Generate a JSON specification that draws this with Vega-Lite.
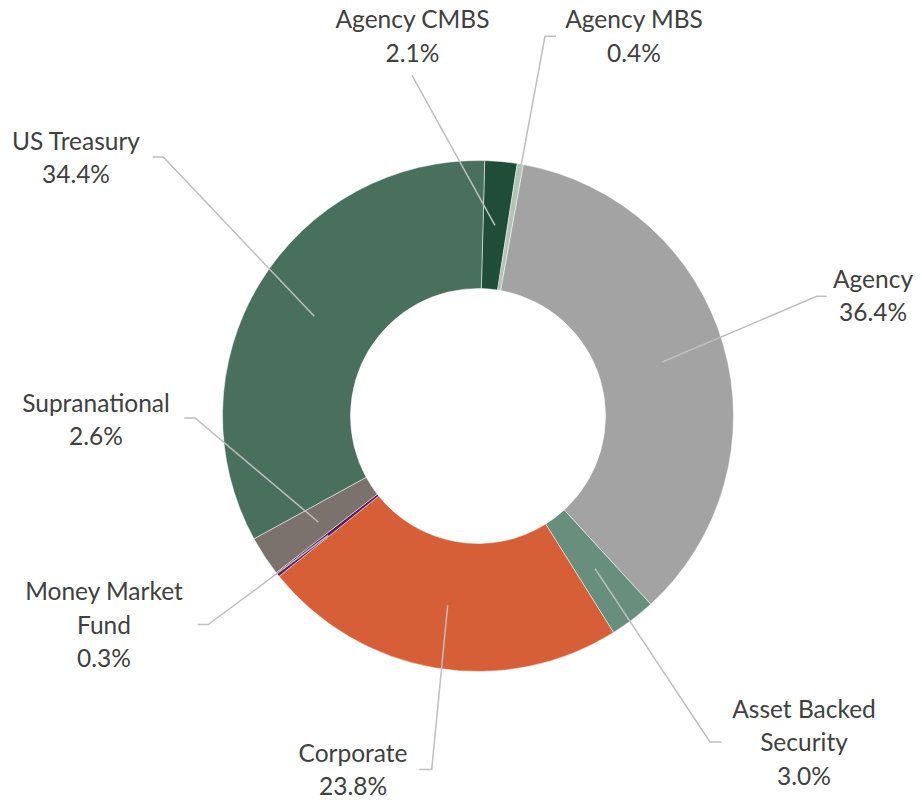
{
  "$schema": "https://vega.github.io/schema/vega-lite/v6.json",
  "width": 880,
  "height": 778,
  "autosize": {"type": "none"},
  "padding": {"left": 38, "top": 27, "right": 4, "bottom": 0},
  "background": "white",
  "config": {"view": {"stroke": null}},
  "datasets": {
    "allocation": [
      {"category": "Agency CMBS", "value": 2.1, "rank": 1},
      {"category": "Agency MBS", "value": 0.4, "rank": 2},
      {"category": "Agency", "value": 36.4, "rank": 3},
      {"category": "Asset Backed Security", "value": 3.0, "rank": 4},
      {"category": "Corporate", "value": 23.8, "rank": 5},
      {"category": "Money Market Fund", "value": 0.3, "rank": 6},
      {"category": "Supranational", "value": 2.6, "rank": 7},
      {"category": "US Treasury", "value": 34.4, "rank": 8}
    ],
    "labels": [
      {"category": "Agency CMBS", "text": "Agency CMBS\n2.1%", "lx": -0.2564, "ly": 1.5174},
      {"category": "Agency MBS", "text": "Agency MBS\n0.4%", "lx": 0.6106, "ly": 1.5174},
      {"category": "Agency", "text": "Agency\n36.4%", "lx": 1.546, "ly": 0.5025},
      {"category": "Asset Backed Security", "text": "Asset Backed\nSecurity\n3.0%", "lx": 1.2759, "ly": -1.1804},
      {"category": "Corporate", "text": "Corporate\n23.8%", "lx": -0.4892, "ly": -1.3542},
      {"category": "Money Market Fund", "text": "Money Market\nFund\n0.3%", "lx": -1.4638, "ly": -0.7213},
      {"category": "Supranational", "text": "Supranational\n2.6%", "lx": -1.4951, "ly": 0.0157},
      {"category": "US Treasury", "text": "US Treasury\n34.4%", "lx": -1.5734, "ly": 1.0427}
    ],
    "leaders": [
      {"category": "Agency CMBS", "step": 1, "lx": -0.2583, "ly": 1.3335},
      {"category": "Agency CMBS", "step": 2, "lx": 0.0665, "ly": 0.7464},
      {"category": "Agency MBS", "step": 1, "lx": 0.3053, "ly": 1.4861},
      {"category": "Agency MBS", "step": 2, "lx": 0.2622, "ly": 1.4861},
      {"category": "Agency MBS", "step": 3, "lx": 0.0795, "ly": 0.4986},
      {"category": "Agency", "step": 1, "lx": 1.3648, "ly": 0.4685},
      {"category": "Agency", "step": 2, "lx": 1.3256, "ly": 0.4685},
      {"category": "Agency", "step": 3, "lx": 0.7213, "ly": 0.2114},
      {"category": "Asset Backed Security", "step": 1, "lx": 0.9538, "ly": -1.2759},
      {"category": "Asset Backed Security", "step": 2, "lx": 0.908, "ly": -1.2759},
      {"category": "Asset Backed Security", "step": 3, "lx": 0.4579, "ly": -0.5973},
      {"category": "Corporate", "step": 1, "lx": -0.2297, "ly": -1.384},
      {"category": "Corporate", "step": 2, "lx": -0.1812, "ly": -1.384},
      {"category": "Corporate", "step": 3, "lx": -0.1186, "ly": -0.7409},
      {"category": "Money Market Fund", "step": 1, "lx": -1.0971, "ly": -0.8164},
      {"category": "Money Market Fund", "step": 2, "lx": -1.0556, "ly": -0.8164},
      {"category": "Money Market Fund", "step": 3, "lx": -0.5859, "ly": -0.4669},
      {"category": "Supranational", "step": 1, "lx": -1.1495, "ly": -0.0078},
      {"category": "Supranational", "step": 2, "lx": -1.1076, "ly": -0.0078},
      {"category": "Supranational", "step": 3, "lx": -0.625, "ly": -0.4149},
      {"category": "US Treasury", "step": 1, "lx": -1.2732, "ly": 1.0137},
      {"category": "US Treasury", "step": 2, "lx": -1.2317, "ly": 1.0137},
      {"category": "US Treasury", "step": 3, "lx": -0.6407, "ly": 0.3902}
    ]
  },
  "layer": [
    {
      "data": {"name": "allocation"},
      "mark": {"type": "arc", "outerRadius": 255.5, "innerRadius": 127.5, "stroke": "white", "strokeWidth": 0.5},
      "encoding": {
        "theta": {"field": "value", "type": "quantitative", "stack": true, "scale": {"range": [0.0262, 6.3094]}},
        "order": {"field": "rank", "type": "quantitative"},
        "color": {
          "field": "category",
          "type": "nominal",
          "legend": null,
          "scale": {
            "domain": ["Agency CMBS", "Agency MBS", "Agency", "Asset Backed Security", "Corporate", "Money Market Fund", "Supranational", "US Treasury"],
            "range": ["#1f4d37", "#a9c6b3", "#a3a3a3", "#688f7d", "#d75f37", "#5c1a5b", "#7b716d", "#48705c"]
          }
        }
      }
    },
    {
      "data": {"name": "leaders"},
      "mark": {"type": "line", "color": "#bfbfbf", "strokeWidth": 1.5},
      "encoding": {
        "x": {"field": "lx", "type": "quantitative", "axis": null, "scale": {"domain": [-1.7221, 1.7221], "nice": false, "zero": false}},
        "y": {"field": "ly", "type": "quantitative", "axis": null, "scale": {"domain": [-1.5225, 1.5225], "nice": false, "zero": false}},
        "detail": {"field": "category", "type": "nominal"},
        "order": {"field": "step", "type": "quantitative"}
      }
    },
    {
      "data": {"name": "labels"},
      "mark": {"type": "text", "font": "Lato", "fontSize": 24.5, "color": "#404040", "align": "center", "baseline": "alphabetic", "lineBreak": "\n", "lineHeight": 33.5},
      "encoding": {
        "x": {"field": "lx", "type": "quantitative", "axis": null, "scale": {"domain": [-1.7221, 1.7221], "nice": false, "zero": false}},
        "y": {"field": "ly", "type": "quantitative", "axis": null, "scale": {"domain": [-1.5225, 1.5225], "nice": false, "zero": false}},
        "text": {"field": "text", "type": "nominal"}
      }
    }
  ]
}
